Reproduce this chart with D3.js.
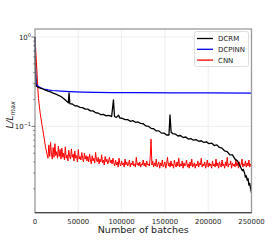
<!DOCTYPE html>
<html>
<head>
<meta charset="UTF-8">
<script src="https://cdn.jsdelivr.net/npm/d3@7"></script>
<style>
  body { margin: 0; background: #fff; }
  svg { font-family: 'DejaVu Sans', sans-serif; }
</style>
</head>
<body>
<svg id="chart" width="280" height="240"></svg>
<script>
// series names / colours
const seriesNames = ["DCRM", "DCPINN", "CNN"];
const seriesColors = ["#000000", "#0000ff", "#ff0000"];

// x ticks
const xTicks = [0, 50000, 100000, 150000, 200000, 250000];

// DCRM: [batch, L/Lmax]
const dcrm = [
  [0, 1.0], [600, 0.40], [1200, 0.284], [3000, 0.276], [6000, 0.268], [9000, 0.262],
  [12000, 0.254], [15000, 0.248], [18000, 0.243], [21000, 0.236], [24000, 0.230],
  [27000, 0.222], [30000, 0.216], [33000, 0.205], [36000, 0.193], [38500, 0.184],
  [39300, 0.237], [40200, 0.180], [43000, 0.178], [46000, 0.170], [49000, 0.169],
  [52000, 0.163], [55000, 0.162], [58000, 0.156], [61000, 0.156], [64000, 0.149],
  [67000, 0.149], [70000, 0.142], [73000, 0.141], [76000, 0.135], [79000, 0.136],
  [82000, 0.131], [85000, 0.133], [88500, 0.129], [90600, 0.198], [91800, 0.129],
  [94000, 0.126], [96500, 0.133], [98000, 0.124], [101000, 0.123], [104000, 0.119],
  [107000, 0.119], [110000, 0.114], [113000, 0.116], [116000, 0.111], [119000, 0.112],
  [122000, 0.108], [125000, 0.107], [128000, 0.101], [131000, 0.100], [134000, 0.095],
  [137000, 0.094], [140000, 0.089], [143000, 0.089], [146000, 0.084], [149000, 0.084],
  [152000, 0.080], [154700, 0.080], [155900, 0.134], [157200, 0.086], [159000, 0.083],
  [162000, 0.082], [165000, 0.078], [168000, 0.079], [171000, 0.075], [174000, 0.076],
  [177000, 0.072], [180000, 0.073], [183000, 0.070], [186000, 0.071], [189000, 0.068],
  [192000, 0.069], [195000, 0.066], [198000, 0.067], [201000, 0.064], [204000, 0.065],
  [207000, 0.061], [210000, 0.062], [213000, 0.058], [216000, 0.057], [219000, 0.053],
  [222000, 0.052], [225000, 0.048], [228000, 0.048], [231000, 0.043], [234000, 0.041],
  [236000, 0.037], [238000, 0.034], [239500, 0.032], [240500, 0.033], [242000, 0.030],
  [243000, 0.027], [244000, 0.028], [245000, 0.025], [246000, 0.026], [247000, 0.022],
  [248000, 0.023], [249000, 0.020], [250000, 0.018]
];

// DCPINN: [batch, L/Lmax]
const dcpinn = [
  [0, 1.0], [600, 0.42], [1200, 0.285], [2000, 0.292], [3500, 0.282], [6000, 0.272],
  [10000, 0.262], [15000, 0.256], [20000, 0.252], [30000, 0.248], [40000, 0.245],
  [55000, 0.242], [70000, 0.240], [90000, 0.239], [120000, 0.238], [160000, 0.237],
  [200000, 0.237], [250000, 0.236]
];

// CNN: steep head, then noisy values every 1000 batches from 14000
const cnnHead = [[0, 1.0], [2000, 0.45], [4000, 0.205], [6000, 0.14], [8000, 0.105], [10000, 0.080], [12000, 0.060]];
const cnnNoiseStart = 14000;
const cnnNoiseStep = 1000;
const cnnNoise = [
  0.048, 0.044, 0.062, 0.046, 0.066, 0.049, 0.043, 0.058, 0.045, 0.064, 0.047, 0.052, 0.044, 0.060, 0.046, 0.055, 0.043,
  0.057, 0.045, 0.050, 0.042, 0.059, 0.044, 0.048, 0.041, 0.054, 0.046, 0.043, 0.056, 0.045, 0.049, 0.041,
  0.053, 0.044, 0.047, 0.040, 0.055, 0.043, 0.046, 0.042, 0.051, 0.044, 0.040, 0.050, 0.043, 0.047, 0.041,
  0.046, 0.040, 0.049, 0.042, 0.038, 0.047, 0.041, 0.044, 0.039, 0.051, 0.042, 0.040, 0.045, 0.038, 0.043,
  0.040, 0.048, 0.039, 0.042, 0.037, 0.046, 0.040, 0.043, 0.038, 0.041, 0.045, 0.039, 0.042, 0.038, 0.044,
  0.039, 0.036, 0.042, 0.037, 0.040, 0.035, 0.044, 0.038, 0.036, 0.041,
  0.037, 0.039, 0.035, 0.043, 0.037, 0.040, 0.036, 0.038, 0.042, 0.035,
  0.039, 0.037, 0.041, 0.036, 0.038, 0.035, 0.045, 0.037, 0.039, 0.036,
  0.040, 0.035, 0.038, 0.037, 0.042, 0.036, 0.039, 0.035, 0.041, 0.037,
  0.038, 0.036, 0.044,
  0.072,
  0.037, 0.041, 0.035, 0.039, 0.036, 0.043, 0.035, 0.038, 0.040, 0.034,
  0.039, 0.036, 0.042, 0.035, 0.037, 0.040, 0.034, 0.038, 0.045, 0.036,
  0.039, 0.035, 0.041, 0.036, 0.038, 0.034, 0.042, 0.037, 0.035, 0.040,
  0.036, 0.044, 0.035, 0.038, 0.036, 0.041, 0.034, 0.039, 0.036, 0.037,
  0.042, 0.035, 0.038, 0.034, 0.040, 0.036, 0.043, 0.035, 0.037, 0.039,
  0.034, 0.038, 0.036, 0.041, 0.035, 0.039, 0.037, 0.044, 0.035, 0.038,
  0.036, 0.040, 0.034, 0.037, 0.042, 0.035, 0.039, 0.036, 0.038, 0.034,
  0.041, 0.036, 0.038, 0.035, 0.043, 0.036, 0.039, 0.034, 0.040, 0.037,
  0.035, 0.042, 0.036, 0.038, 0.034, 0.040, 0.036, 0.045, 0.035, 0.038,
  0.037, 0.041, 0.034, 0.039, 0.036, 0.038, 0.035, 0.042, 0.036, 0.039,
  0.034, 0.040, 0.036, 0.037, 0.043, 0.035, 0.038, 0.036, 0.041, 0.035,
  0.039, 0.036, 0.042, 0.035, 0.038, 0.036
];
const cnn = cnnHead.concat(cnnNoise.map((v, i) => [cnnNoiseStart + i * cnnNoiseStep, v]));

const svg = d3.select("#chart");
const pLeft = 35, pRight = 251.5, pTop = 29, pBottom = 212.7;

const x = d3.scaleLinear().domain([0, 250000]).range([pLeft, pRight]);
const y = d3.scaleLog().domain([0.0108, 1.23]).range([pBottom, pTop]);

// grid
const grid = svg.append("g").attr("stroke", "#ebebeb").attr("stroke-width", 0.8);
grid.selectAll(".gx").data(xTicks.slice(1, -1)).join("line")
  .attr("x1", d => x(d)).attr("x2", d => x(d)).attr("y1", pTop).attr("y2", pBottom);
grid.selectAll(".gy").data([1, 0.1]).join("line")
  .attr("x1", pLeft).attr("x2", pRight).attr("y1", d => y(d)).attr("y2", d => y(d));

// lines
const line = d3.line().x(d => x(d[0])).y(d => y(d[1]));
const plot = svg.append("g");
[[cnn, 2, 1.0], [dcpinn, 1, 1.2], [dcrm, 0, 1.3]].forEach(([data, k, w]) => {
  plot.append("path").datum(data)
    .attr("d", line).attr("fill", "none")
    .attr("stroke", seriesColors[k]).attr("stroke-width", w)
    .attr("stroke-linejoin", "round");
});

// spines
svg.append("rect").attr("x", pLeft).attr("y", pTop)
  .attr("width", pRight - pLeft).attr("height", pBottom - pTop)
  .attr("fill", "none").attr("stroke", "#9a9a9a").attr("stroke-width", 1.3);
svg.append("line").attr("x1", pLeft).attr("x2", pRight).attr("y1", pBottom).attr("y2", pBottom)
  .attr("stroke", "#333").attr("stroke-width", 1);

// x tick labels
svg.append("g").selectAll("text").data(xTicks).join("text")
  .attr("x", d => x(d)).attr("y", 223.5)
  .attr("text-anchor", "middle").attr("font-size", 6.9).attr("fill", "#222")
  .text(d => d);

// y ticks: major and minor
const minor = [];
[0.01, 0.1].forEach(b => { for (let i = 2; i <= 9; i++) minor.push(b * i); });
svg.append("g").selectAll("line").data(minor.filter(v => v > 0.0108)).join("line")
  .attr("x1", pLeft - 2).attr("x2", pLeft).attr("y1", d => y(d)).attr("y2", d => y(d))
  .attr("stroke", "#555").attr("stroke-width", 0.6);
svg.append("g").selectAll("line").data([1, 0.1]).join("line")
  .attr("x1", pLeft - 3.5).attr("x2", pLeft).attr("y1", d => y(d)).attr("y2", d => y(d))
  .attr("stroke", "#555").attr("stroke-width", 0.8);

const yLab = svg.append("g").selectAll("text").data([[1, "0"], [0.1, "−1"]]).join("text")
  .attr("x", 31).attr("y", d => y(d[0]) + 2.5)
  .attr("text-anchor", "end").attr("font-size", 7).attr("fill", "#222");
yLab.append("tspan").text("10");
yLab.append("tspan").attr("font-size", 5).attr("dy", -3).text(d => d[1]);

// axis titles
svg.append("text").attr("x", (pLeft + pRight) / 2).attr("y", 233)
  .attr("text-anchor", "middle").attr("font-size", 9.5).attr("fill", "#222")
  .text("Number of batches");

const yt = svg.append("text")
  .attr("transform", `translate(13,${(pTop + pBottom) / 2 - 6}) rotate(-90)`)
  .attr("text-anchor", "middle").attr("font-size", 9).attr("font-style", "italic").attr("fill", "#222");
yt.append("tspan").text("L/L");
yt.append("tspan").attr("font-size", 6.5).attr("dy", 2).text("max");

// legend
const lg = svg.append("g");
lg.append("rect").attr("x", 194.5).attr("y", 31.5).attr("width", 54).attr("height", 35).attr("rx", 2)
  .attr("fill", "#fff").attr("fill-opacity", 0.85).attr("stroke", "#d0d0d0").attr("stroke-width", 0.7);
seriesNames.forEach((name, i) => {
  const cy = 38.5 + i * 10.8;
  lg.append("line").attr("x1", 197).attr("x2", 213).attr("y1", cy).attr("y2", cy)
    .attr("stroke", seriesColors[i]).attr("stroke-width", 1.3);
  lg.append("text").attr("x", 218).attr("y", cy + 2.5).attr("font-size", 7).attr("fill", "#222").text(name);
});
</script>
</body>
</html>
